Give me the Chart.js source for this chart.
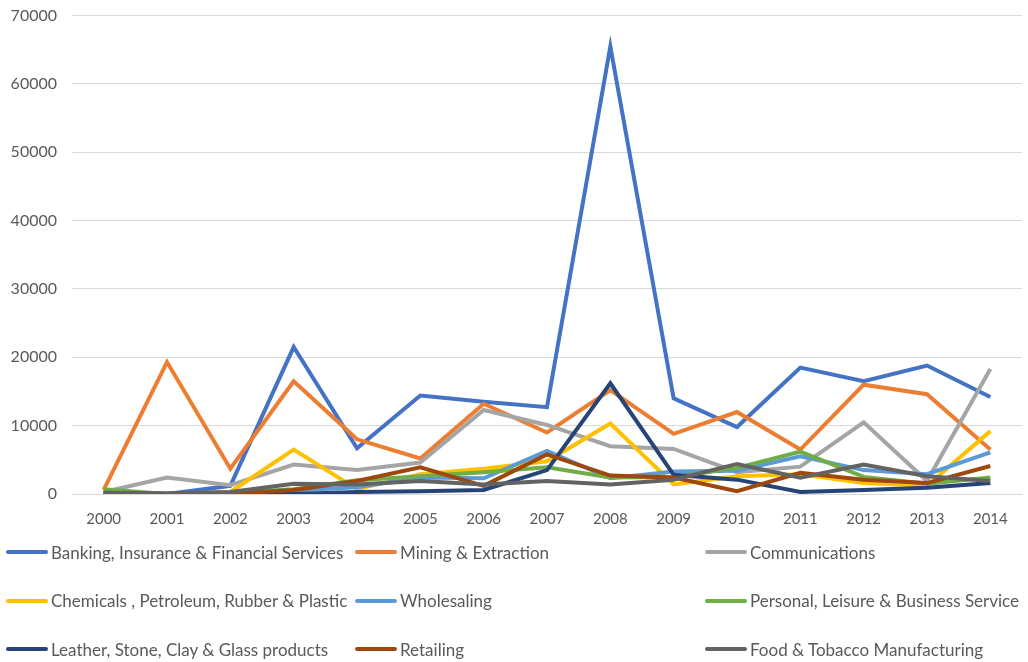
<!DOCTYPE html>
<html>
<head>
<meta charset="utf-8">
<script src="https://cdn.jsdelivr.net/npm/chart.js@4/dist/chart.umd.min.js"></script>
<style>
  html, body { margin: 0; padding: 0; background: #fff; overflow: hidden; }
  #wrap { position: relative; width: 1028px; height: 662px; overflow: hidden; }
  #chartBox { position: absolute; left: 0; top: -9px; width: 1028px; height: 544px; }
  #legend {
    position: absolute; left: 6px; top: 528px; width: 1022px;
    display: grid; grid-template-columns: 349px 350px 1fr; grid-auto-rows: 48.5px;
    font-family: Lato, "Liberation Sans", sans-serif; font-size: 17px; color: #595959;
  }
  .item { display: flex; align-items: center; white-space: nowrap; }
  .swatch { width: 42px; height: 4px; margin-right: 3px; border-radius: 2px; }
</style>
</head>
<body>
<div id="wrap">
  <div id="chartBox"><canvas id="sectorChart"></canvas></div>
  <div id="legend"></div>
</div>
<script>
const years = ['2000', '2001', '2002', '2003', '2004', '2005', '2006', '2007',
               '2008', '2009', '2010', '2011', '2012', '2013', '2014'];

const banking       = [200, 0, 1200, 21500, 6700, 14400, 13500, 12700, 65500, 14000, 9800, 18500, 16500, 18800, 14200];
const mining        = [600, 19300, 3700, 16500, 8000, 5200, 13200, 9000, 15200, 8800, 12000, 6500, 16000, 14600, 6500];
const communications= [300, 2400, 1300, 4300, 3500, 4600, 12300, 10100, 7000, 6600, 3200, 4000, 10500, 1900, 18300];
const chemicals     = [100, 0, 300, 6500, 700, 2900, 3700, 4800, 10300, 1400, 2600, 2900, 1600, 1200, 9200];
const wholesaling   = [100, 0, 200, 500, 1000, 2400, 2300, 6300, 2300, 3300, 3400, 5500, 3500, 2900, 6100];
const personal      = [700, 0, 200, 700, 2000, 2600, 3200, 3900, 2400, 2500, 3800, 6200, 2500, 1500, 2400];
const leather       = [0, 0, 0, 0, 300, 400, 600, 3500, 16200, 2800, 2100, 300, 600, 900, 1600];
const retailing     = [0, 0, 0, 600, 1900, 3900, 1200, 5800, 2700, 2400, 400, 3100, 2100, 1600, 4100];
const food          = [200, 100, 300, 1500, 1400, 1900, 1400, 1900, 1400, 2100, 4400, 2400, 4300, 2600, 1900];

const series = [
  { label: 'Banking, Insurance & Financial Services', data: banking, color: '#4472C4' },
  { label: 'Mining & Extraction', data: mining, color: '#ED7D31' },
  { label: 'Communications', data: communications, color: '#A5A5A5' },
  { label: 'Chemicals , Petroleum, Rubber & Plastic', data: chemicals, color: '#FFC000' },
  { label: 'Wholesaling', data: wholesaling, color: '#5B9BD5' },
  { label: 'Personal, Leisure & Business Service', data: personal, color: '#70AD47' },
  { label: 'Leather, Stone, Clay & Glass products', data: leather, color: '#264478' },
  { label: 'Retailing', data: retailing, color: '#9E480E' },
  { label: 'Food & Tobacco Manufacturing', data: food, color: '#636363' }
];

const FONT = 'Lato, "Liberation Sans", sans-serif';
const TEXT = '#595959';

// later series are painted over earlier ones
const datasets = series.map((s, i) => ({
  label: s.label,
  data: s.data,
  borderColor: s.color,
  backgroundColor: s.color,
  borderWidth: 4,
  pointRadius: 0,
  tension: 0,
  fill: false,
  order: series.length - i
}));

const ctx = document.getElementById('sectorChart').getContext('2d');
window.myChart = new Chart(ctx, {
  type: 'line',
  data: { labels: years, datasets: datasets },
  options: {
    responsive: true,
    maintainAspectRatio: false,
    animation: false,
    layout: { padding: { top: 0, right: 6, left: 0, bottom: 0 } },
    plugins: { legend: { display: false }, tooltip: { enabled: false } },
    scales: {
      x: {
        offset: true,
        grid: { display: false, drawTicks: false },
        border: { color: '#D9D9D9', width: 1 },
        ticks: { color: TEXT, font: { family: FONT, size: 15 }, padding: 16, maxRotation: 0 },
        afterFit: scale => { scale.height = 41; }
      },
      y: {
        min: 0,
        max: 70000,
        ticks: {
          stepSize: 10000, color: TEXT, font: { family: FONT, size: 16 }, padding: 15,
          callback: v => String(v)
        },
        grid: { color: '#D9D9D9', lineWidth: 1, drawTicks: false },
        border: { display: false },
        afterFit: scale => { scale.width = 72; }
      }
    }
  }
});

// legend laid out in three fixed columns
const legendEl = document.getElementById('legend');
series.forEach(s => {
  const item = document.createElement('div');
  item.className = 'item';
  const sw = document.createElement('span');
  sw.className = 'swatch';
  sw.style.background = s.color;
  const txt = document.createElement('span');
  txt.textContent = s.label;
  item.appendChild(sw);
  item.appendChild(txt);
  legendEl.appendChild(item);
});
</script>
</body>
</html>
